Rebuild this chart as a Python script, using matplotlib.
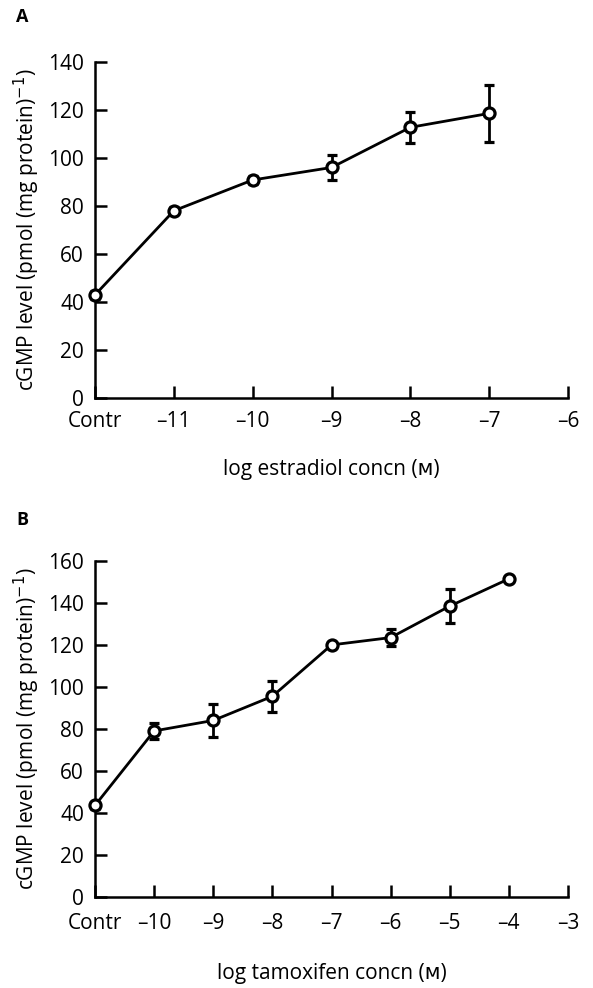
import matplotlib
matplotlib.use("Agg")
import matplotlib.pyplot as plt

# Panel A: estradiol
a_labels = ["Contr", "–11", "–10", "–9", "–8", "–7", "–6"]
a_x = [-12, -11, -10, -9, -8, -7]
a_y = [43, 78, 90.8, 96, 112.7, 118.5]
a_err = [1.5, 1.5, 1.5, 5, 6.5, 12]

# Panel B: tamoxifen
b_labels = ["Contr", "–10", "–9", "–8", "–7", "–6", "–5", "–4", "–3"]
b_x = [-11, -10, -9, -8, -7, -6, -5, -4]
b_y = [43.5, 79, 84, 95.5, 120, 123.5, 138.5, 151.5]
b_err = [1.5, 4, 8, 7.5, 1.5, 4, 8, 1.5]

plt.rcParams["font.family"] = ["Open Sans", "DejaVu Sans"]

W, H = 593, 988
fig = plt.figure(figsize=(W / 100, H / 100), dpi=100)


def frac_axes(left, top, right, bottom):
    return [left / W, 1 - bottom / H, (right - left) / W, (bottom - top) / H]


ax_a = fig.add_axes(frac_axes(95, 61.7, 568, 398.3))
ax_b = fig.add_axes(frac_axes(95, 561, 568, 896.7))

ylabel = "cGMP level (pmol (mg protein)$^{-1}$)"


def draw(ax, xs, ys, errs, labels, xmin, xmax, ymax, xpad):
    ax.errorbar(xs, ys, yerr=errs, color="black", lw=2.0, capsize=3.3,
                capthick=2.0, elinewidth=2.0, marker="o", markersize=8,
                markerfacecolor="white", markeredgecolor="black",
                markeredgewidth=2.3, clip_on=False, zorder=3)
    ax.set_xlim(xmin, xmax)
    ax.set_ylim(0, ymax)
    ax.set_xticks(range(xmin, xmax + 1))
    ax.set_xticklabels(labels)
    ax.set_yticks(range(0, ymax + 1, 20))
    for s in ["top", "right"]:
        ax.spines[s].set_visible(False)
    for s in ["left", "bottom"]:
        ax.spines[s].set_linewidth(1.8)
    ax.tick_params(direction="in", length=8.5, width=1.8, labelsize=15)
    ax.tick_params(axis="x", pad=9 if xpad is None else xpad)
    ax.tick_params(axis="y", pad=8)


draw(ax_a, a_x, a_y, a_err, a_labels, -12, -6, 140, 9)
draw(ax_b, b_x, b_y, b_err, b_labels, -11, -3, 160, 12)

# axis titles placed at fixed pixel positions
fig.text(331.5 / W, 1 - 470 / H, "log estradiol concn (ᴍ)", fontsize=15,
         ha="center", va="center")
fig.text(331.5 / W, 1 - 973 / H, "log tamoxifen concn (ᴍ)", fontsize=15,
         ha="center", va="center")
fig.text(27 / W, 1 - 230 / H, ylabel, fontsize=15, rotation=90,
         ha="center", va="center")
fig.text(27 / W, 1 - 729 / H, ylabel, fontsize=15, rotation=90,
         ha="center", va="center")

fig.text(22 / W, 1 - 17 / H, "A", fontsize=13, fontweight="bold",
         ha="center", va="center")
fig.text(22 / W, 1 - 520 / H, "B", fontsize=13, fontweight="bold",
         ha="center", va="center")

fig.savefig("out.png", dpi=100)
